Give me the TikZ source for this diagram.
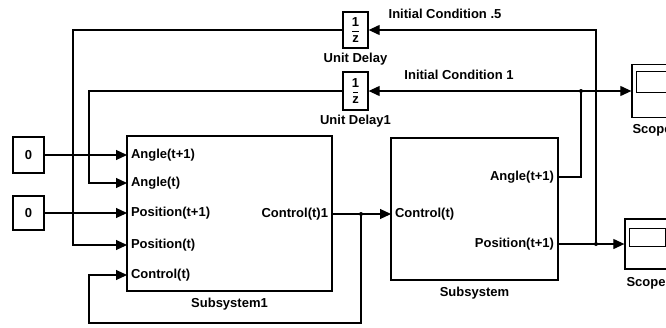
\documentclass[tikz,border=0pt]{standalone}
\usepackage{fontspec}
\setmainfont{Liberation Sans}
\usetikzlibrary{arrows.meta,positioning}

\begin{document}
\begin{tikzpicture}[
  x=1pt, y=-1pt,
  line width=1.1pt,
  font=\fontsize{13}{15}\selectfont\bfseries,
  block/.style={draw, line width=1.3pt, inner sep=0pt},
  delay/.style={block, minimum width=25pt, align=center, font=\fontsize{13}{12}\selectfont\bfseries},
  port/.style={inner sep=0pt, inner xsep=4pt, outer sep=0pt},
  caption/.style={inner sep=1pt},
  arrow/.style={-{Triangle[length=11pt,width=10pt]}},
  dot/.style={circle, fill, inner sep=0pt, minimum size=4pt}
]
\useasboundingbox (0,0) rectangle (666,327);
\clip (0,0) rectangle (666,327);

% constants
\node[block, minimum width=31pt, minimum height=36pt] (zero1) at (28.5,155) {0};
\node[block, minimum width=31pt, minimum height=34pt] (zero2) at (28.5,213) {0};

% subsystems
\node[block, minimum width=205pt, minimum height=155pt] (sub1) at (229.5,213.5) {};
\node[caption, below=5pt of sub1] (sub1lbl) {Subsystem1};
\node[block, minimum width=167pt, minimum height=142pt] (sub2) at (474.5,209) {};
\node[caption, below=5pt of sub2] (sub2lbl) {Subsystem};

% ports of Subsystem1
\node[port, anchor=west] (s1a1) at (127,155) {Angle(t+1)};
\node[port, anchor=west] (s1a0) at (127,183) {Angle(t)};
\node[port, anchor=west] (s1p1) at (127,213) {Position(t+1)};
\node[port, anchor=west] (s1p0) at (127,245) {Position(t)};
\node[port, anchor=west] (s1c) at (127,275) {Control(t)};
\node[port, anchor=east] (s1out) at (332,214) {Control(t)1};

% ports of Subsystem
\node[port, anchor=west] (s2c) at (391,214) {Control(t)};
\node[port, anchor=east] (s2a1) at (558,177) {Angle(t+1)};
\node[port, anchor=east] (s2p1) at (558,244) {Position(t+1)};

% unit delays
\node[delay, minimum height=36pt] (ud) at (355.5,30) {1\\[-3pt]\rule[3pt]{7pt}{1.5pt}\\[-5pt]z};
\node[caption, below=3pt of ud] (udlbl) {Unit Delay};
\node[delay, minimum height=38pt] (ud1) at (355.5,91) {1\\[-3pt]\rule[3pt]{5pt}{1.5pt}\\[-5pt]z};
\node[caption, below=3pt of ud1] (ud1lbl) {Unit Delay1};
\node (ic5) at (445,14) {Initial Condition .5};
\node (ic1) at (459,75) {Initial Condition 1};

% scopes
\node[block, minimum width=40pt, minimum height=53pt] (scope1) at (652,91) {};
\draw ([shift={(5,8)}]scope1.north west) rectangle ([shift={(-5,29)}]scope1.north east);
\node[caption, below=5pt of scope1] (scope1lbl) {Scope};
\node[block, minimum width=42pt, minimum height=50pt] (scope2) at (646,244) {};
\draw ([shift={(5,10)}]scope2.north west) rectangle ([shift={(-2,28)}]scope2.north east);
\node[caption, below=6pt of scope2] (scope2lbl) {Scope};

% branch points
\coordinate (fb) at (361,214);
\coordinate (fbdown) at (361,323);
\coordinate (abr) at (581,91);
\coordinate (pbr) at (596,244);

% wires
\draw[arrow] (zero1) -- (s1a1.west);
\draw[arrow] (zero2) -- (s1p1.west);
\draw[arrow] (ud.west) -| ([xshift=-54pt]s1p0.west) -- (s1p0.west);
\draw[arrow] (ud1.west) -| ([xshift=-38pt]s1a0.west) -- (s1a0.west);
\draw[arrow] (s1out.east) -- (s2c.west);
\draw[arrow] (fb) -- (fbdown) -| ([xshift=-38pt]s1c.west) -- (s1c.west);
\draw (s2a1.east) -| (abr);
\draw[arrow] (abr) -- (ud1.east);
\draw[arrow] (abr) -- (scope1.west);
\draw[arrow] (s2p1.east) -- (pbr) -- (scope2.west);
\draw[arrow] (pbr) |- (ud.east);
\node[dot] at (fb) {};
\node[dot] at (abr) {};
\node[dot] at (pbr) {};
\end{tikzpicture}
\end{document}
